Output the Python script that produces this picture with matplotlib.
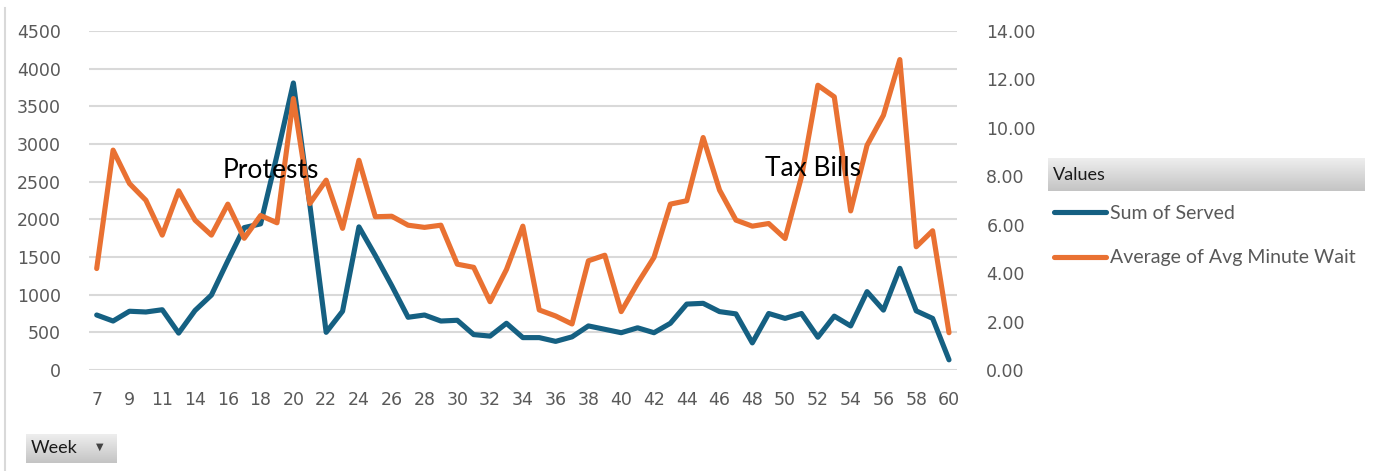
import numpy as np
import matplotlib
matplotlib.use("Agg")
import matplotlib.pyplot as plt
from matplotlib.lines import Line2D
from matplotlib.colors import LinearSegmentedColormap

# week numbers (week 13 is absent in the source pivot)
weeks = [7, 8, 9, 10, 11, 12] + list(range(14, 61))

served = [730, 650, 780, 770, 800, 490, 790, 995, 1450, 1890,
          1940, 2850, 3810, 2200, 500, 780, 1900, 1520, 1120, 700,
          730, 650, 660, 470, 450, 620, 430, 430, 380, 440,
          585, 540, 495, 560, 495, 620, 875, 885, 775, 745,
          360, 750, 685, 750, 435, 715, 585, 1040, 795, 1350,
          785, 685, 135]

avg_wait = [4.19, 9.08, 7.70, 7.01, 5.57, 7.40, 6.19, 5.57, 6.85, 5.44,
            6.38, 6.08, 11.21, 6.87, 7.84, 5.85, 8.66, 6.33, 6.35, 5.98,
            5.89, 5.98, 4.37, 4.24, 2.82, 4.15, 5.94, 2.48, 2.23, 1.90,
            4.51, 4.74, 2.41, 3.58, 4.65, 6.85, 6.99, 9.60, 7.43, 6.19,
            5.94, 6.05, 5.43, 7.98, 11.76, 11.28, 6.57, 9.28, 10.52, 12.82,
            5.09, 5.75, 1.54]

series_names = ['Sum of Served', 'Average of Avg Minute Wait']
notes = ['Protests', 'Tax Bills']

BLUE = '#156082'
ORANGE = '#E97132'
GREY = '#595959'

W, H = 1382, 471
fig = plt.figure(figsize=(W / 100, H / 100), dpi=100)

ax = fig.add_axes([88.5 / W, (H - 370) / H, 868.7 / W, 339 / H])
ax2 = ax.twinx()

x = np.arange(len(weeks))
l1, = ax.plot(x, served, color=BLUE, lw=3.7,
              solid_joinstyle='round', solid_capstyle='round')
l2, = ax2.plot(x, avg_wait, color=ORANGE, lw=3.7,
               solid_joinstyle='round', solid_capstyle='round')

ax.set_xlim(-0.5, len(weeks) - 0.5)
ax.set_ylim(0, 4500)
ax2.set_ylim(0, 14)
ax.set_yticks(np.arange(0, 4501, 500))
ax2.set_yticks(np.arange(0, 14.1, 2))
ax2.set_yticklabels([f'{v:.2f}' for v in np.arange(0, 14.1, 2)])
ax.set_xticks(x[::2])
ax.set_xticklabels([str(w) for w in weeks[::2]])

ax.grid(axis='y', color='#D9D9D9', lw=1.5)
ax.set_axisbelow(True)
for a in (ax, ax2):
    for s in a.spines.values():
        s.set_visible(False)
    a.tick_params(length=0, labelsize=12.5, labelcolor=GREY)
ax.tick_params(axis='y', pad=20)
ax2.tick_params(axis='y', pad=21)
ax.tick_params(axis='x', pad=15)

# annotations, drawn over both lines (left-axis coordinates)
ax2.text(7.7, 2550, notes[0], transform=ax.transData, fontsize=19,
         family='Lato', color='black', va='baseline', zorder=5)
ax2.text(40.77, 2576, notes[1], transform=ax.transData, fontsize=19,
         family='Lato', color='black', va='baseline', zorder=5)

# pivot-chart chrome
grad = LinearSegmentedColormap.from_list('btn', ['#EEEEEE', '#C4C4C4'])
g = np.linspace(0, 1, 64).reshape(-1, 1)

hdr = fig.add_axes([1048 / W, (H - 191) / H, 317 / W, 33 / H])
hdr.imshow(g, cmap=grad, aspect='auto')
hdr.axis('off')
fig.text(1053 / W, (H - 175) / H, 'Values', fontsize=13, family='Lato',
         color='#1A1A1A', va='center')

btn = fig.add_axes([26 / W, (H - 463) / H, 91 / W, 29 / H])
btn.imshow(g, cmap=grad, aspect='auto')
btn.axis('off')
fig.text(31 / W, (H - 448) / H, 'Week', fontsize=13, family='Lato',
         color='#1A1A1A', va='center')
fig.text(100 / W, (H - 447) / H, '▼', fontsize=7, color='#444444',
         va='center', ha='center')

fig.legend([l1, l2], series_names, loc='upper left',
           bbox_to_anchor=(1048 / W, (H - 199) / H), frameon=False,
           prop={'family': 'Lato', 'size': 14}, labelcolor=GREY,
           handlelength=2.7, handletextpad=0.2, labelspacing=1.42,
           borderaxespad=0, borderpad=0.3)

fig.add_artist(Line2D([5 / W, 5 / W], [0, (H - 8) / H], color='#D9D9D9', lw=1.5))

fig.savefig('out.png', dpi=100)
